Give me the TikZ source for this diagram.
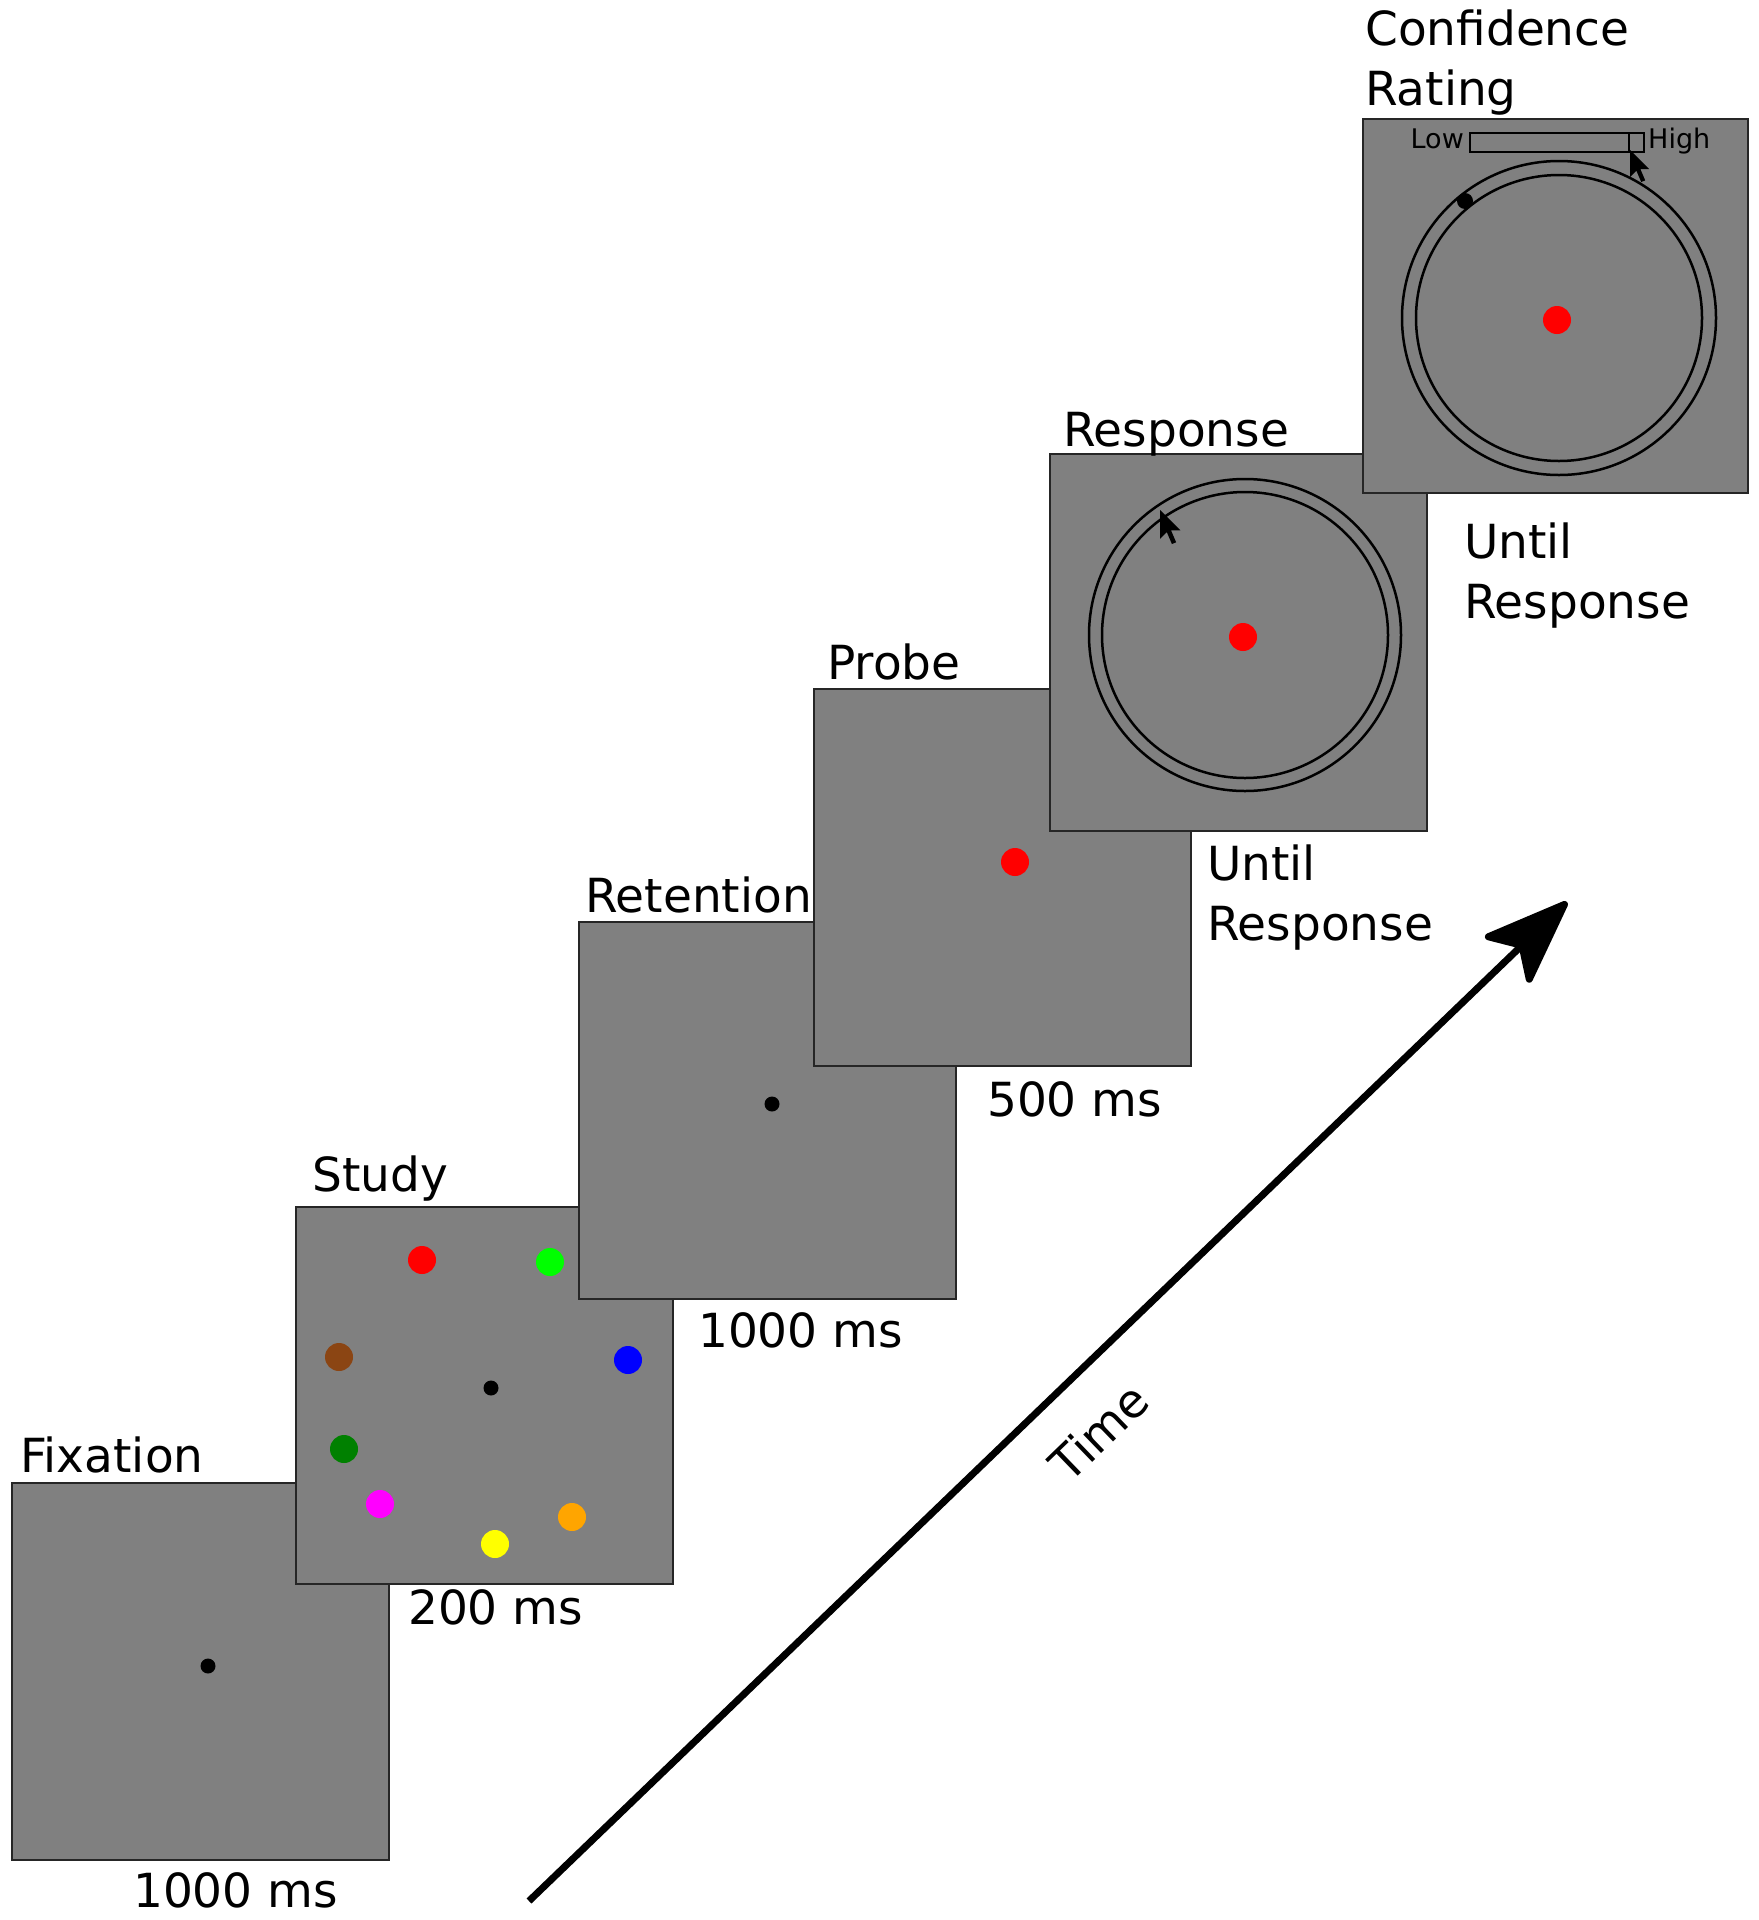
\documentclass[tikz,border=0pt]{standalone}
\usepackage{fontspec}
\setmainfont{DejaVu Sans}
\usetikzlibrary{arrows.meta}
\definecolor{panelgray}{RGB}{128,128,128}
\definecolor{cbrown}{RGB}{139,69,19}
\definecolor{cdgreen}{RGB}{0,128,0}
\definecolor{clime}{RGB}{0,255,0}
\definecolor{cred}{RGB}{255,0,0}
\definecolor{cblue}{RGB}{0,0,255}
\definecolor{cmag}{RGB}{255,0,255}
\definecolor{cyel}{RGB}{255,255,0}
\definecolor{corange}{RGB}{255,165,0}
\begin{document}
\begin{tikzpicture}[x=1pt,y=-1pt,
  panel/.style={draw=black!85, line width=1.8pt, fill=panelgray, minimum width=377pt, minimum height=377pt, anchor=north west, inner sep=0pt, outer sep=0pt},
  lbl/.style={font=\fontsize{47}{60}\selectfont, anchor=base west, inner sep=0pt, align=left},
  small/.style={font=\fontsize{27}{30}\selectfont, inner sep=0pt},
  ring/.style={draw=black, line width=2.5pt},
  pics/cursor/.style={code={\fill[black] (0,0) -- (0,17) -- (4,13) -- (7,20) -- (9.5,19) -- (6.5,12) -- (12,12) -- cycle;}}
]
\useasboundingbox (0,0) rectangle (1759,1920);

% Fixation
\node[panel] (fix) at (12,1483) {};
\fill[black] (208,1666) circle (7.5pt);
\node[lbl] (fixlbl) at (20,1472) {Fixation};
\node[lbl] (fixt) at (133,1907) {1000 ms};

% Study
\node[panel] (study) at (296,1207) {};
\fill[cred] (422,1260) circle (14pt);
\fill[clime] (550,1262) circle (14pt);
\fill[cbrown] (339,1357) circle (14pt);
\fill[cblue] (628,1360) circle (14pt);
\fill[black] (491,1388) circle (7.5pt);
\fill[cdgreen] (344,1449) circle (14pt);
\fill[cmag] (380,1504) circle (14pt);
\fill[cyel] (495,1544) circle (14pt);
\fill[corange] (572,1517) circle (14pt);
\node[lbl] (studylbl) at (312,1191) {Study};
\node[lbl] (studyt) at (408,1624) {200 ms};

% Retention
\node[panel] (ret) at (579,922) {};
\fill[black] (772,1104) circle (7.5pt);
\node[lbl] (retlbl) at (585,912) {Retention};
\node[lbl] (rett) at (698,1347) {1000 ms};

% Probe
\node[panel] (probe) at (814,689) {};
\fill[cred] (1015,862) circle (14pt);
\node[lbl] (probelbl) at (827,679) {Probe};
\node[lbl] (probet) at (987,1116) {500 ms};

% Response
\node[panel] (resp) at (1050,454) {};
\draw[ring] (1245,635) circle (156pt);
\draw[ring] (1245,635) circle (143pt);
\fill[cred] (1243,637) circle (14pt);
\pic[scale=1.7] at (1160,510) {cursor};
\node[lbl] (resplbl) at (1063,446) {Response};
\node[lbl] (respt) at (1207,940) {Until\\Response};

% Confidence
\node[panel, minimum width=385pt, minimum height=374pt] (conf) at (1363,119) {};
\draw[ring] (1559,318) circle (157pt);
\draw[ring] (1559,318) circle (143pt);
\fill[cred] (1557,320) circle (14pt);
\fill[black] (1465,201) circle (8pt);
\draw[black, line width=1.5pt] (1470,133) rectangle (1644,152);
\draw[black, line width=1.5pt] (1629,133) rectangle (1644,152);
\node[small, anchor=base east] (low) at (1464,148) {Low};
\node[small, anchor=base west] (high) at (1648,148) {High};
\pic[scale=1.6] at (1630,150) {cursor};
\node[lbl] (conflbl) at (1365,105) {Confidence\\Rating};
\node[lbl] (conft) at (1464,618) {Until\\Response};

% Time arrow
\coordinate (ts) at (529,1901);
\coordinate (te) at (1567,902);
\draw[line width=7pt, -{Stealth[length=95pt,width=72pt,inset=22pt,round]}] (ts) -- (te);
\node[font=\fontsize{47}{60}\selectfont, rotate=44, inner sep=0pt] (time) at (1099,1432) {Time};
\end{tikzpicture}
\end{document}
